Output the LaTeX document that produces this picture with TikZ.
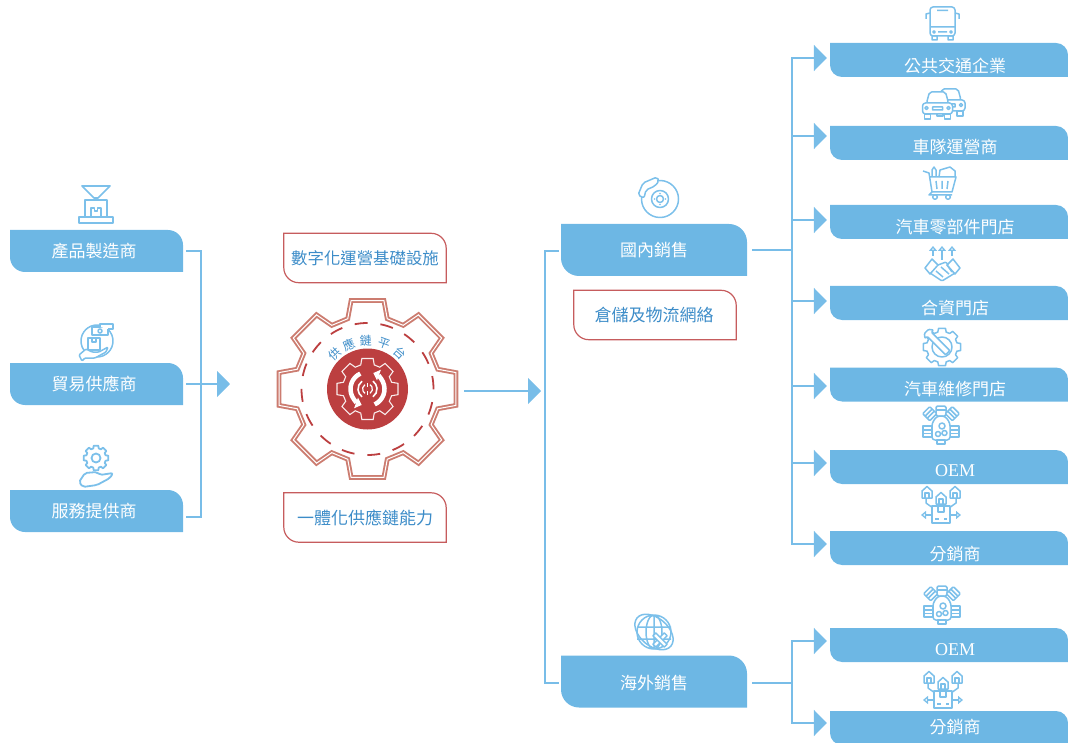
\documentclass[tikz,border=0pt]{standalone}
\usepackage{fontspec}
\setmainfont{Liberation Serif}
\newfontfamily\cjk{Noto Sans CJK TC}
\usetikzlibrary{arrows.meta}

\definecolor{boxblue}{HTML}{6DB7E4}
\definecolor{linkblue}{HTML}{78BDE8}
\definecolor{iconblue}{HTML}{7CC0EA}
\definecolor{textblue}{HTML}{3C8CC8}
\definecolor{hubred}{HTML}{BC3F40}
\definecolor{cogred}{HTML}{CC7C70}

\tikzset{
  panel/.style n args={3}{minimum width=#1,minimum height=#2,inner sep=0pt,text=white,
    font=\cjk\fontsize{17}{17}\selectfont,
    path picture={\fill[boxblue] (path picture bounding box.north west)
      -- ([xshift=-#3]path picture bounding box.north east)
      arc[start angle=90,end angle=0,radius=#3]
      -- (path picture bounding box.south east)
      -- ([xshift=#3]path picture bounding box.south west)
      arc[start angle=270,end angle=180,radius=#3] -- cycle;}},
  leftbox/.style={panel={173pt}{42pt}{15pt},execute at begin node=\hspace{-5pt}},
  midbox/.style={panel={186pt}{52pt}{18pt}},
  rightbox/.style={panel={238pt}{34pt}{12pt},execute at begin node=\hspace{12pt}},
  redcard/.style={minimum width=#1,minimum height=49pt,inner sep=0pt,text=textblue,
    font=\cjk\fontsize{17}{17}\selectfont},
  redline/.style={draw=hubred!85,line width=1.2pt},
  link/.style={draw=linkblue,line width=2pt},
  tip/.style={-{Triangle[width=26pt,length=13pt,fill=linkblue]}},
  icon/.style={draw=iconblue,line width=1.5pt,line join=round},
  iconw/.style={icon,fill=white},
  openhead/.style={-{Triangle[open,width=8pt,length=5pt,fill=white]}},
  % ---- repeated icons
  engine/.pic={
    \draw[iconw,rounded corners=1.5pt] (-5,-19) rectangle (5,-9);
    \draw[icon] (-5,-15)--(5,-15);
    \draw[iconw,rounded corners=1pt,rotate=-45] (-5,-21) rectangle (5,-11);
    \draw[iconw,rounded corners=1pt,rotate=45] (-5,-21) rectangle (5,-11);
    \draw[icon,rotate=-45] (-5,-17.5)--(5,-17.5) (-5,-14.5)--(5,-14.5);
    \draw[icon,rotate=45] (-5,-17.5)--(5,-17.5) (-5,-14.5)--(5,-14.5);
    \draw[iconw] (-18,1) rectangle (-9,12);
    \draw[iconw] (9,1) rectangle (18,12);
    \draw[icon] (-18,5)--(-9,5) (-18,8.5)--(-9,8.5) (9,5)--(18,5) (9,8.5)--(18,8.5);
    \draw[iconw,rounded corners=3pt] (-4,-9)--(4,-9)--(9,-2)--(9,15)--(-9,15)--(-9,-2)--cycle;
    \draw[iconw] (-4,15) rectangle (4,19);
    \draw[icon] (1,1) circle[radius=3pt] (-3,9) circle[radius=2.5pt] (3.5,8) circle[radius=2.5pt];
  },
  house/.pic={
    \draw[iconw] (-5,6)--(-5,-1)--(0,-5.5)--(5,-1)--(5,6)--cycle;
    \draw[icon] (-2,6)--(-2,1)--(2,1)--(2,6);
  },
  depot/.pic={
    \draw[icon] (-15,-7)--(-15,-2)--(-8,3) (15,-7)--(15,-2)--(8,3) (0,-2)--(0,1);
    \draw[iconw] (-9,1) rectangle (9,18);
    \draw[icon] (-3,1)--(-3,7)--(3,7)--(3,1) (-6,14)--(-2,14) (3,14)--(6,14);
    \draw[icon,openhead] (-9,10)--(-20,10);
    \draw[icon,openhead] (9,10)--(20,10);
    \pic at (-14,-13) {house};
    \pic at (14,-13) {house};
    \pic at (0,-7) {house};
  },
  motorcar/.pic={
    \draw[iconw,rounded corners=2pt] (-11,-2)--(-8,-13)--(8,-13)--(11,-2)--cycle;
    \draw[iconw] (-13,9) rectangle (-7,14);
    \draw[iconw] (7,9) rectangle (13,14);
    \draw[iconw,rounded corners=3pt] (-15,9)--(-15,-2)--(15,-2)--(15,9)--cycle;
    \draw[icon] (-11,3) circle[radius=1.6pt] (11,3) circle[radius=1.6pt] (-5,2) rectangle (5,5);
  }
}

\newcommand{\cog}[3]{%
  \draw[#1] (-15.7:#3) \foreach \ang in {0,45,...,315}
    { -- (\ang-15.7:#3) -- (\ang-10.5:#2) -- (\ang+10.5:#2) -- (\ang+15.7:#3) } -- cycle;}

\begin{document}
\begin{tikzpicture}[x=1pt,y=-1pt]
  \useasboundingbox (0,0) rectangle (1068,743);

  % ------ boxes
  \foreach \name/\cy/\lab in {maker/251/產品製造商,trade/384/貿易供應商,serv/511/服務提供商}
    \node[leftbox] (\name) at (96.5,\cy) {\lab};
  \node[midbox] (dom) at (654,250) {國內銷售};
  \node[midbox,text height=16pt,text depth=0pt] (over) at (654,681.5) {海外銷售};
  \foreach \name/\cy/\lab/\hgt in {pub/60/公共交通企業/26pt,fleet/143/車隊運營商/21pt,
      parts/222/汽車零部件門店/23pt,joint/303/合資門店/23pt,repair/384.5/汽車維修門店/21pt,
      oema/467/{\rmfamily\fontsize{18}{18}\selectfont OEM}/19pt,dist/548/分銷商/25pt,
      oemb/645/{\rmfamily\fontsize{18}{18}\selectfont OEM}/21pt,distb/728/分銷商/11pt}
    \node[rightbox,text height=\hgt,text depth=0pt] (\name) at (949,\cy) {\lab};

  \node[redcard=162pt] (infra) at (365,258) {\fontsize{16.4}{17}\selectfont 數字化運營基礎設施};
  \node[redcard=162pt] (ability) at (365,517.5) {一體化供應鏈能力};
  \node[redcard=162pt] (logis) at (655,315) {\hspace{-2pt}倉儲及物流網絡};
  \foreach \name in {infra,ability,logis}
    \draw[redline] (\name.north west) -- ([xshift=-15pt]\name.north east)
      arc[start angle=90,end angle=0,radius=15pt] -- (\name.south east)
      -- ([xshift=15pt]\name.south west) arc[start angle=270,end angle=180,radius=15pt] -- cycle;

  % ------ connectors
  \coordinate (lefttrunk) at (201,384);
  \coordinate (lefttip) at (230,384);
  \coordinate (gearout) at (464,391);
  \coordinate (gearin) at (541,391);
  \coordinate (midtrunk) at (545,400);
  \coordinate (domtrunk) at (792,250);
  \coordinate (overtrunk) at (792,683);

  \draw[link,shorten <=3pt,shorten >=3pt] (maker.east) -| (lefttrunk) |- ([yshift=-6pt]serv.east);
  \draw[link,tip,shorten <=3pt] (trade.east) -- (lefttip);
  \draw[link,tip] (gearout) -- (gearin);
  \draw[link,shorten <=2pt,shorten >=2pt] ([yshift=-1pt]dom.west) -| (midtrunk) |- ([yshift=-1pt]over.west);
  \draw[link,shorten <=5pt] (dom.east) -- (domtrunk);
  \draw[link,shorten <=5pt] ([yshift=-1.5pt]over.east) -- (overtrunk);
  \foreach \name/\dy in {pub/2pt,fleet/7pt,parts/2pt,joint/2pt,repair/-1.5pt,oema/4pt,dist/4pt}
    \draw[link,tip,shorten >=3pt] (domtrunk) |- ([yshift=\dy]\name.west);
  \foreach \name/\dy in {oemb/4pt,distb/5pt}
    \draw[link,tip,shorten >=3pt] (overtrunk) |- ([yshift=\dy]\name.west);

  % ------ the big gear
  \begin{scope}[shift={(367.5,389)},y=1pt]
    \cog{draw=cogred,double=white,double distance=1pt,line width=1.9pt,line join=miter}{90}{73}
    \draw[hubred,line width=1.8pt,dash pattern=on 13pt off 12.9pt] (0,0) circle[radius=66pt];
    \fill[hubred] (0,0) circle[radius=40.5pt];
    \cog{draw=white!90!hubred,line width=1.1pt}{31}{25}
    \draw[white,line width=4.5pt,-{Triangle[width=11pt,length=6pt]}] (115:17) arc[start angle=115,end angle=250,radius=17pt];
    \draw[white,line width=4.5pt,-{Triangle[width=11pt,length=6pt]}] (-65:17) arc[start angle=-65,end angle=70,radius=17pt];
    \draw[white,line width=1.6pt] (125:9.5) arc[start angle=125,end angle=235,radius=9.5pt];
    \draw[white,line width=1.6pt] (-55:9.5) arc[start angle=-55,end angle=55,radius=9.5pt];
    \draw[white,line width=1.2pt] (120:5) arc[start angle=120,end angle=240,radius=5pt];
    \draw[white,line width=1.2pt] (-60:5) arc[start angle=-60,end angle=60,radius=5pt];
    \draw[white,line width=1.2pt] (0,6) -- (0,2) (0,-2) -- (0,-6);
    \foreach \ang/\ch in {133/供,113/應,92/鏈,70/平,48/台}
      \node[rotate=\ang-90,text=textblue,inner sep=0pt,font=\cjk\fontsize{12}{12}\selectfont] (ring\ang) at (\ang:48) {\ch};
  \end{scope}

  % ------ left icons
  \begin{scope}[shift={(96,205)}]
    \draw[iconw,line width=1.7pt] (-14,-19)--(14,-19)--(2,-7)--(-2,-7)--cycle;
    \draw[icon,line width=1.9pt] (-11,12)--(-11,-5)--(11,-5)--(11,12) (-5,12)--(-5,3)--(-1.5,3)--(-1.5,6)--(1.5,6)--(1.5,3)--(5,3)--(5,12);
    \draw[icon,line width=1.9pt] (-17,12) rectangle (17,18);
  \end{scope}
  \draw[icon] (97,341) circle[radius=16pt];
  \draw[iconw] (92,335)--(92,327)--(108,327)--(108,335)--cycle;
  \draw[iconw] (100,327)--(100,324)--(113,324)--(113,329)--(108,329);
  \draw[icon] (100,331) circle[radius=2pt];
  \draw[iconw] (88,338) rectangle (100,350);
  \draw[icon] (92,338)--(92,342)--(96,342)--(96,338);
  \draw[iconw,rounded corners=1pt] (79,355)--(86,349)--(92,352)--(99,352)--(108,347)--(106,352)--(95,358)--(85,358)--(82,361)--cycle;
  \cog{icon,shift={(96,458)},line width=1.8pt}{12.5}{10}
  \draw[icon,line width=1.8pt] (96,458) circle[radius=4.5pt];
  \draw[icon,rounded corners=2pt,line width=1.8pt] (79,482)--(85,473)--(97,472)--(100,475)--(113,473)--(110,478)--(97,485)--(83,487)--cycle;

  % ------ sales icons
  \draw[icon] (660,199) circle[radius=18.5pt] (660,199) circle[radius=8.5pt] (660,199) circle[radius=3.5pt];
  \fill[iconblue] (660,193.5) circle[radius=.8pt] (660,204.5) circle[radius=.8pt] (654.5,199) circle[radius=.8pt] (665.5,199) circle[radius=.8pt];
  \draw[iconw,rounded corners=2pt] (638,195)--(643,183)--(657,177)--(659,181)--(655,186)--(646,190)--(644,198)--cycle;

  \draw[icon] (654,632) circle[radius=17pt] (654,632) ellipse[x radius=8pt,y radius=17pt] (637,627)--(671,627) (637,639)--(671,639) (654,615)--(654,649);
  \draw[icon,rotate around={-40:(654,632)}] (654,632) ellipse[x radius=22pt,y radius=14pt];
  \draw[iconw,rotate around={45:(660,640)}] (652,638)--(668,638)--(668,642)--(652,642)--cycle;
  \draw[iconw,rotate around={45:(660,640)}] (658,632)--(662,632)--(662,648)--(658,648)--cycle;

  % ------ customer icons
  \draw[iconw,rounded corners=3pt] (930,7) rectangle (955,36);
  \draw[icon] (930,27)--(955,27) (937,10.5)--(948,10.5) (938,32)--(947,32)
    (930,13)--(926,14)--(926,19) (955,13)--(959,14)--(959,19);
  \draw[icon] (934,32) circle[radius=1.2pt] (951,32) circle[radius=1.2pt] (932,36) rectangle (937,40) (948,36) rectangle (953,40);

  \pic at (950,102) {motorcar};
  \pic at (937.5,105) {motorcar};

  \draw[icon] (923,171)--(929,173)--(932,192)--(952,192)--(956,177)--(929,177) (932,192)--(929,195)--(952,195);
  \draw[icon] (936,181)--(937,189) (942,181)--(942,189) (948,181)--(947,189) (935,197) circle[radius=2.3pt] (948,197) circle[radius=2.3pt];
  \draw[icon] (932,177)--(932,170)--(934,167)--(936,170)--(936,177) (939,177)--(940,170)--(950,167)--(955,171)--(955,177);

  \draw[icon] (933,256)--(933,250) (942,260)--(942,250) (952,256)--(952,250);
  \draw[icon,openhead] (933,252)--(933,246);
  \draw[icon,openhead] (942,252)--(942,246);
  \draw[icon,openhead] (952,252)--(952,246);
  \draw[iconw] (925,268)--(932,259)--(938,265)--(930,274)--cycle;
  \draw[iconw] (960,268)--(953,259)--(947,265)--(955,274)--cycle;
  \draw[icon,rounded corners=1pt] (930,273)--(942,281)--(955,273) (938,265)--(946,262)--(948,265) (947,265)--(952,272) (936,271)--(943,277) (941,267)--(949,274);

  \cog{icon,shift={(942,347)}}{19}{15.5}
  \draw[icon] (942,347) circle[radius=10pt];
  \draw[iconw,rotate around={-45:(942,347)},rounded corners=1pt] (924,344)--(950,344)--(950,350)--(924,350)--(924,353)--(920,350)--(920,344)--(924,341)--cycle;

  \pic at (941,425) {engine};
  \pic at (941,505) {depot};
  \pic at (942,605) {engine};
  \pic at (943,690) {depot};
\end{tikzpicture}
\end{document}
